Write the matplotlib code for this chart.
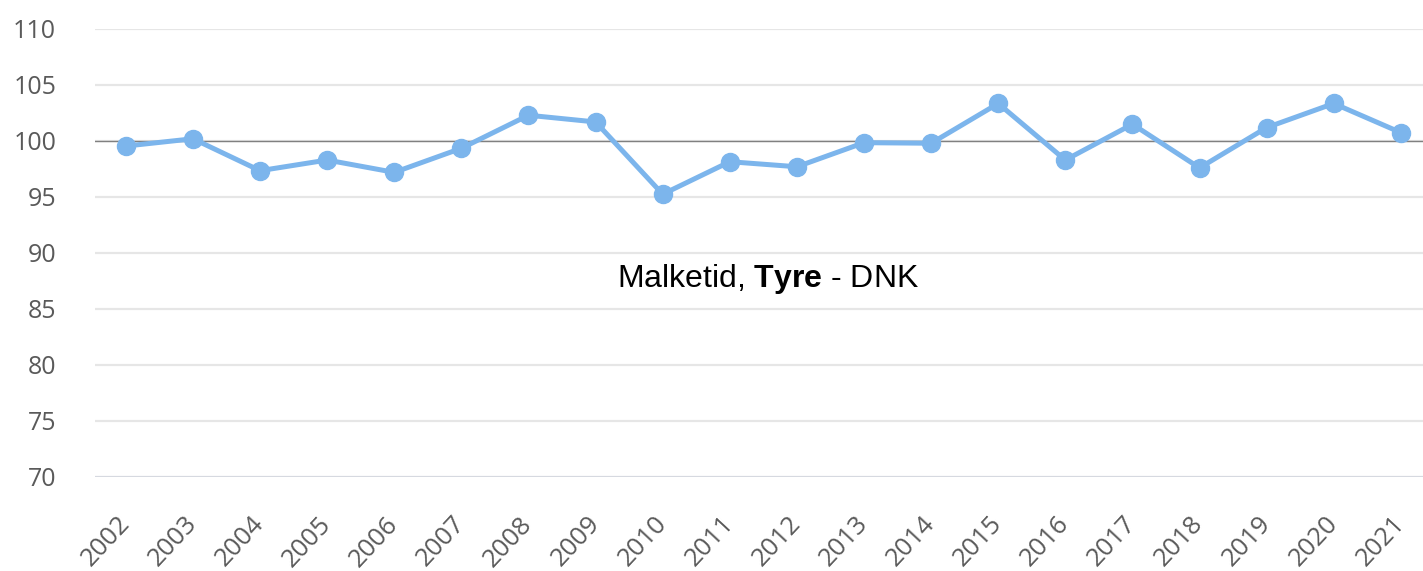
import matplotlib
matplotlib.use("Agg")
import matplotlib.pyplot as plt

years = [2002, 2003, 2004, 2005, 2006, 2007, 2008, 2009, 2010, 2011,
         2012, 2013, 2014, 2015, 2016, 2017, 2018, 2019, 2020, 2021]
values = [99.55, 100.2, 97.35, 98.3, 97.2, 99.35, 102.3, 101.7, 95.25, 98.15,
          97.7, 99.85, 99.8, 103.35, 98.3, 101.5, 97.6, 101.2, 103.35, 100.75]
yticks = [70, 75, 80, 85, 90, 95, 100, 105, 110]
reference_level = 100
annotation = r"Malketid, $\mathbf{Tyre}$ - DNK"

plt.rcParams['mathtext.fontset'] = 'custom'
plt.rcParams['mathtext.rm'] = 'Liberation Sans'
plt.rcParams['mathtext.bf'] = 'Liberation Sans:bold'

W, H = 1423, 571
fig = plt.figure(figsize=(W / 100, H / 100), dpi=100)
left_px, right_px, top_px, bottom_px = 95, 1423, 29, 477
ax = fig.add_axes([left_px / W, 1 - bottom_px / H,
                   (right_px - left_px) / W, (bottom_px - top_px) / H])

ax.set_ylim(70, 110)
ax.set_xlim(years[0] - 0.46, years[-1] + 0.33)
ax.set_yticks(yticks)
ax.set_xticks(years)
for s in ax.spines.values():
    s.set_visible(False)
ax.tick_params(length=0)
for y in yticks:
    ax.axhline(y, color='#e6e6e6' if y != 70 else '#d6d9e0', lw=1.6, zorder=0)
ax.axhline(reference_level, color='#808080', lw=1.0, zorder=1)

ax.plot(years, values, color='#7cb5ec', lw=3.6, marker='o', markersize=13,
        zorder=3, solid_capstyle='round')

ax.set_yticklabels([str(v) for v in yticks], fontsize=18, color='#5a5a5a',
                   fontfamily='Open Sans')
ax.tick_params(axis='y', pad=28)
ax.set_xticklabels([str(v) for v in years], fontsize=18.5, color='#5a5a5a',
                   fontfamily='Open Sans', rotation=47, ha='right', va='center',
                   rotation_mode='anchor')
ax.tick_params(axis='x', pad=31)

ax.text(0.507, 0.424, annotation, transform=ax.transAxes, ha='center',
        va='baseline', fontsize=23, color='black', fontfamily='Liberation Sans')

fig.savefig('out.png', dpi=100)
